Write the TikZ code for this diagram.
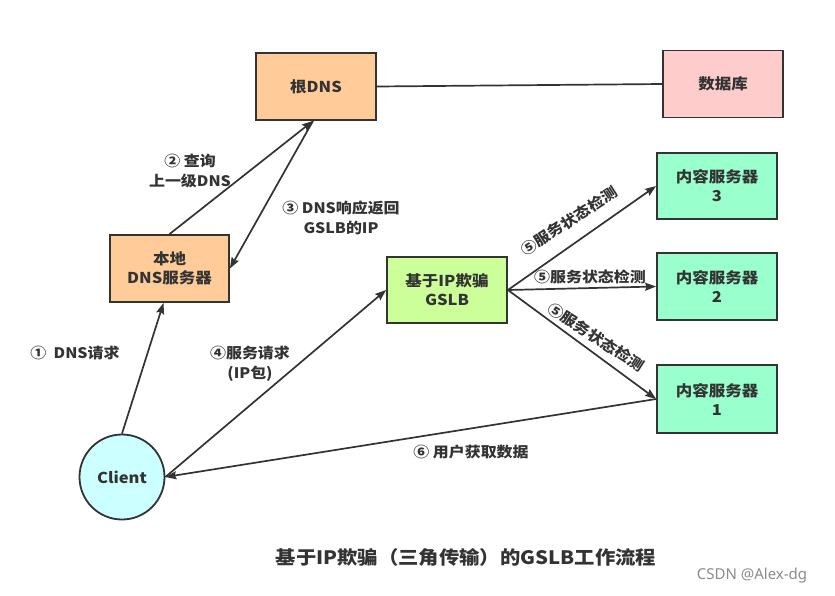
\documentclass[tikz,border=0pt]{standalone}
\usepackage{fontspec}
\setmainfont{Noto Sans CJK SC}[FakeStretch=1.1]
\newfontfamily\wmfont{Noto Sans}
\usetikzlibrary{arrows.meta,calc}
\definecolor{ink}{HTML}{333333}
\definecolor{orangebox}{HTML}{FFCC99}
\definecolor{limebox}{HTML}{CCFF99}
\definecolor{mintbox}{HTML}{99FFCC}
\definecolor{pinkbox}{HTML}{FFCCCC}
\definecolor{cyanbox}{HTML}{CCFFFF}
\begin{document}
\begin{tikzpicture}[x=1pt,y=-1pt,
  box/.style={draw=ink,line width=1.8pt,minimum width=120pt,minimum height=67pt,inner sep=0pt,align=center,font=\fontsize{15}{19}\selectfont\bfseries,text=ink},
  lbl/.style={align=center,font=\fontsize{14.5}{20}\selectfont\bfseries,text=ink,inner sep=0pt},
  conn/.style={draw=ink,line width=1.7pt},
  arr/.style={conn,-{Stealth[length=11pt,width=8pt,inset=1.5pt]}}
]
\fill[white] (0,0) rectangle (835,595);
\path[use as bounding box] (0,0) rectangle (835,595);

\node[box,fill=orangebox] (root) at (316,86.5) {根DNS};
\node[box,fill=pinkbox] (db) at (723,84) {数据库};
\node[box,fill=orangebox,minimum width=119pt] (local) at (169.5,268.5) {本地\\DNS服务器};
\node[box,fill=limebox,minimum height=66pt] (gslb) at (447,290) {基于IP欺骗\\GSLB};
\node[box,fill=mintbox,minimum height=66pt] (s3) at (717,186) {内容服务器\\3};
\node[box,fill=mintbox,minimum height=67pt] (s2) at (717,286.5) {内容服务器\\2};
\node[box,fill=mintbox,minimum height=68pt] (s1) at (717,399) {内容服务器\\1};
\node[draw=ink,line width=1.8pt,fill=cyanbox,circle,minimum size=85pt,inner sep=0pt,font=\fontsize{15}{19}\selectfont\bfseries,text=ink] (client) at (122,477) {Client};

\draw[conn] (root.east) -- (db.west);
\draw[arr] (client.north) -- ([xshift=-6pt]local.south);
\draw[arr] (local.north) -- ([xshift=-3pt]root.south);
\draw[arr] ([xshift=-3pt]root.south) -- (local.east);
\draw[arr] (client.east) -- (gslb.west);
\draw[arr] (gslb.east) -- (s3.west);
\draw[arr] (gslb.east) -- (s2.west);
\draw[arr] (gslb.east) -- (s1.west);
\draw[arr] (s1.west) -- (client.east);

\node[lbl] (l2) at (190,171) {②\ 查询\\上一级DNS};
\node[lbl] (l3) at (341,218) {③ DNS响应返回\\GSLB的IP};
\node[lbl] (l1) at (75,353) {①\ \ DNS请求};
\node[lbl] (l4) at (250,364) {④服务请求\\(IP包)};
\node[lbl,rotate=33] (l5a) at (569,221) {⑤服务状态检测};
\node[lbl] (l5b) at (590,277) {⑤服务状态检测};
\node[lbl,rotate=-33] (l5c) at (596,337) {⑤服务状态检测};
\node[lbl] (l6) at (471,452) {⑥ 用户获取数据};

\node[lbl,font=\fontsize{18.5}{22}\selectfont\bfseries] (title) at (466,557) {基于IP欺骗（三角传输）的GSLB工作流程};
\node[inner sep=0pt,font=\wmfont\fontsize{15}{18}\selectfont,text=black!45] (wm) at (752,576) {CSDN @Alex-dg};
\end{tikzpicture}
\end{document}
